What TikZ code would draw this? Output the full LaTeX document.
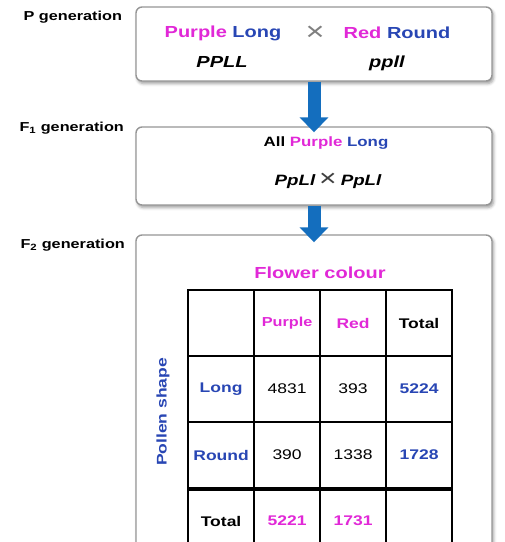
\documentclass[tikz,border=0pt]{standalone}
\usepackage{fontspec}
\setmainfont{Liberation Sans}[FakeStretch=1.25]
\usepackage{tikz}
\usetikzlibrary{arrows.meta,matrix,shadows.blur}
\definecolor{mag}{RGB}{225,40,215}
\definecolor{blu}{RGB}{40,70,180}
\definecolor{arrowblue}{RGB}{20,110,190}
\definecolor{boxgray}{RGB}{150,150,150}
\newcommand\tabfont{\fontsize{14}{16}\selectfont}

\begin{document}
\begin{tikzpicture}[x=1pt,y=1pt,
  genbox/.style={draw=boxgray,line width=1.4pt,rounded corners=6pt,fill=white,minimum width=356pt,
    blur shadow={shadow xshift=1.5pt,shadow yshift=-2.5pt,shadow blur radius=3pt}},
  gen/.style={anchor=west,font=\fontsize{13}{15}\selectfont\bfseries},
  big/.style={font=\fontsize{16}{19}\selectfont\bfseries},
  mid/.style={font=\fontsize{13.5}{16}\selectfont\bfseries},
  geno/.style={font=\fontsize{16}{19}\selectfont\bfseries\itshape},
  times/.style={font=\fontsize{26}{26}\selectfont},
  down/.style={draw=arrowblue,line width=13pt,-{Triangle[width=28pt,length=15pt]}},
  cell/.style={draw,line width=1.8pt,minimum width=66pt,minimum height=66pt,inner sep=0pt,anchor=center,font=\tabfont},
  mg/.style={text=mag,font=\tabfont\bfseries},
  bl/.style={text=blu,font=\tabfont\bfseries},
  bf/.style={font=\tabfont\bfseries}]
\useasboundingbox (0,0) rectangle (505,-542);
\clip (0,0) rectangle (505,-542);
\node [gen] (plab) at (20,-17) {P generation};
\node [gen] (f1lab) at (16,-128) {F\textsubscript{1} generation};
\node [gen] (f2lab) at (17,-245) {F\textsubscript{2} generation};
\node [genbox,minimum height=74pt] (pbox) at (314,-44) {};
\node [genbox,minimum height=78pt] (f1box) at (314,-166) {};
\node [genbox,minimum height=365pt] (f2box) at (314,-417.5) {};
\node [big] (pl) at (223,-33) {\textcolor{mag}{Purple} \textcolor{blu}{Long}};
\node [times,text=gray] (cross) at (315,-33) {×};
\node [big] (rr) at (397,-33) {\textcolor{mag}{Red} \textcolor{blu}{Round}};
\node [geno] (pg) at (222,-62) {PPLL};
\node [geno] (rg) at (387,-63) {ppll};
\node [mid] (all) at (326,-143) {All \textcolor{mag}{Purple} \textcolor{blu}{Long}};
\node [geno,font=\fontsize{15}{18}\selectfont\bfseries\itshape] (f1g) at (328,-181)
  {PpLl\hspace{4pt}{\upshape\mdseries\fontsize{24}{24}\selectfont\raisebox{-1pt}{\textcolor{darkgray}{×}}}\hspace{4pt}PpLl};
\node [big,text=mag] (fc) at (320,-273) {Flower colour};
\node [bl,rotate=90] (ps) at (163,-412) {Pollen shape};
\matrix (tab) [matrix of nodes,nodes in empty cells,anchor=north west,inner sep=0pt,
  column sep=-1.8pt,row sep=-1.8pt,nodes={cell}] at (187,-289) {
  & |[mg,font=\fontsize{13}{15}\selectfont\bfseries]| Purple & |[mg]| Red & |[bf]| Total \\
  |[bl]| Long & 4831 & 393 & |[bl]| 5224 \\
  |[bl]| Round & 390 & 1338 & |[bl]| 1728 \\
  |[bf]| Total & |[mg]| 5221 & |[mg]| 1731 & \\
};
\draw [line width=3pt] (tab-3-1.south west) -- (tab-3-4.south east);
\draw [down] (pbox.south) -- ([yshift=-6pt]f1box.north);
\draw [down] (f1box.south) -- ([yshift=-8pt]f2box.north);
\end{tikzpicture}
\end{document}
